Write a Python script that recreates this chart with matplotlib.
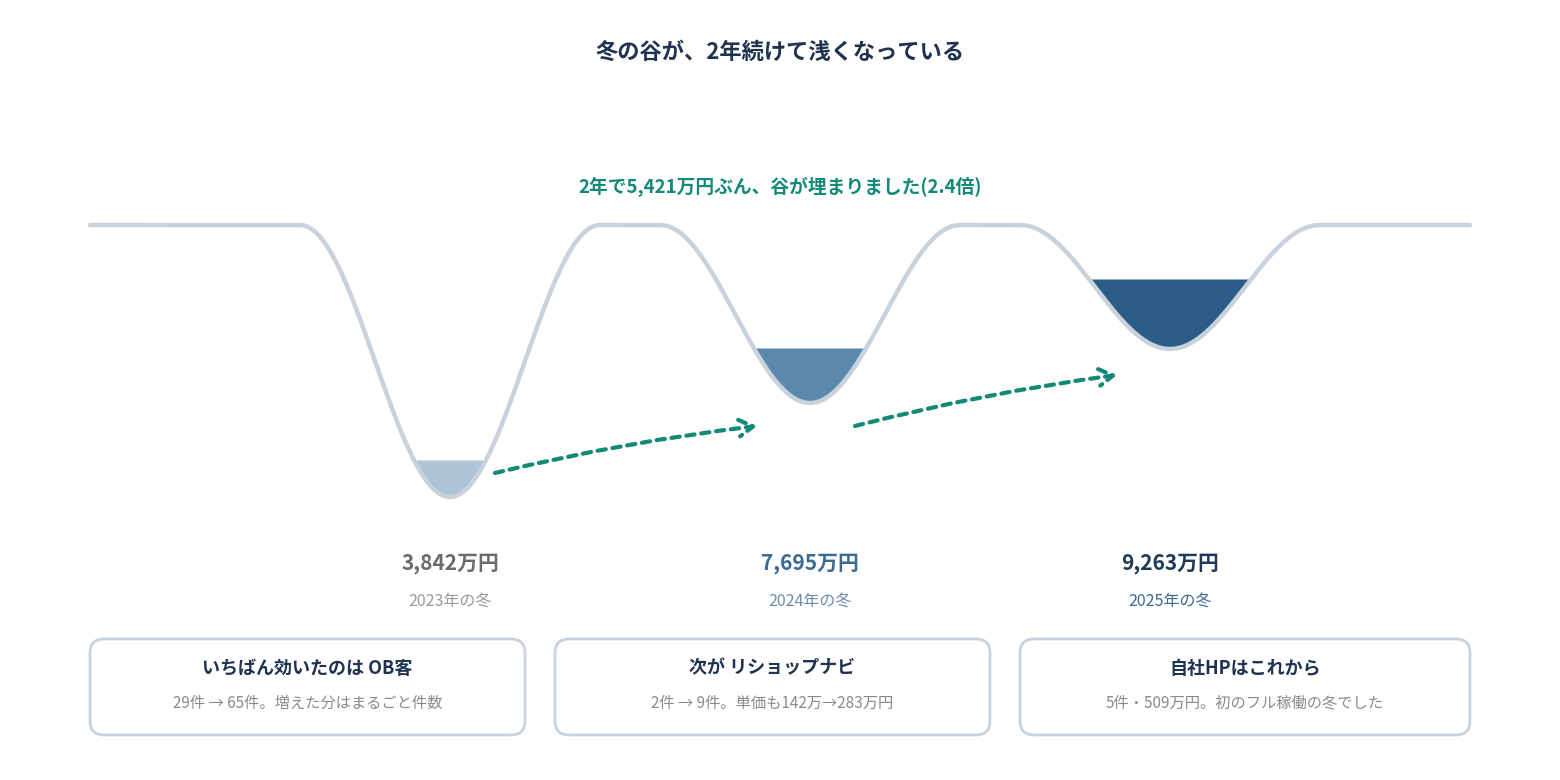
import numpy as np
import matplotlib
matplotlib.use("Agg")
import matplotlib.pyplot as plt
from matplotlib.patches import FancyBboxPatch

plt.rcParams['font.family'] = ['Noto Sans CJK JP', 'DejaVu Sans']

years = ["2023年の冬", "2024年の冬", "2025年の冬"]
values = ["3,842万円", "7,695万円", "9,263万円"]
box_titles = ["いちばん効いたのは OB客", "次が リショップナビ", "自社HPはこれから"]
box_subs = ["29件 → 65件。増えた分はまるごと件数",
            "2件 → 9件。単価も142万→283万円",
            "5件・509万円。初のフル稼働の冬でした"]
title = "冬の谷が、2年続けて浅くなっている"
subtitle = "2年で5,421万円ぶん、谷が埋まりました(2.4倍)"

centers = [450, 810, 1170]
bottoms = [497, 403, 349]
levels = [460, 348, 279]
fill_colors = ["#adc3d6", "#5b88ad", "#2b5c87"]
val_colors = ["#6b6b6b", "#3d6a91", "#1f3a55"]
year_colors = ["#9a9a9a", "#6b8db0", "#3d6a91"]
top = 225
w = 150

fig = plt.figure(figsize=(15.6, 7.8), dpi=100)
ax = fig.add_axes([0, 0, 1, 1])
ax.set_xlim(0, 1560); ax.set_ylim(780, 0); ax.axis('off')

x = np.linspace(90, 1470, 3000)
y = np.full_like(x, top, dtype=float)
for c, b in zip(centers, bottoms):
    m = np.abs(x - c) < w
    y[m] = top + (b - top) * (1 + np.cos(np.pi * (x[m] - c) / w)) / 2

for c, lv, col in zip(centers, levels, fill_colors):
    m = (np.abs(x - c) < w) & (y >= lv)
    ax.fill_between(x[m], lv, y[m], color=col, lw=0, zorder=2)
ax.plot(x, y, color="#c8d2dd", lw=3.2, zorder=3, solid_capstyle='round')

for (x0, y0, x1, y1) in [(495, 473, 757, 426), (855, 426, 1117, 375)]:
    ax.annotate("", xy=(x1, y1), xytext=(x0, y0),
                arrowprops=dict(arrowstyle="->,head_length=1.0,head_width=0.6",
                                color="#138a78", lw=3, linestyle=(0, (2, 1.6)),
                                connectionstyle="arc3,rad=-0.03", shrinkA=0, shrinkB=0))

ax.text(780, 52, title, ha='center', va='center', fontsize=16, fontweight='bold', color="#1f3350")
ax.text(780, 187, subtitle, ha='center', va='center', fontsize=13.5, fontweight='bold', color="#138a78")

for c, v, yr, vc, yc in zip(centers, values, years, val_colors, year_colors):
    ax.text(c, 564, v, ha='center', va='center', fontsize=15, fontweight='bold', color=vc)
    ax.text(c, 601, yr, ha='center', va='center', fontsize=11.5, color=yc)

boxes = [(90, 525), (555, 990), (1020, 1470)]
for (bx0, bx1), t, s in zip(boxes, box_titles, box_subs):
    ax.add_patch(FancyBboxPatch((bx0, 639), bx1 - bx0, 96,
                                boxstyle="round,pad=0,rounding_size=14",
                                fc='white', ec="#c8d2dd", lw=2))
    cx = (bx0 + bx1) / 2
    ax.text(cx, 668, t, ha='center', va='center', fontsize=13, fontweight='bold', color="#1f3350")
    ax.text(cx, 703, s, ha='center', va='center', fontsize=11, color="#8a8a8a")

fig.savefig("out.png", dpi=100, facecolor='white')
